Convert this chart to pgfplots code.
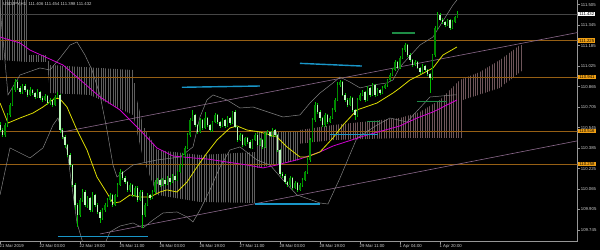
\documentclass[border=0pt]{standalone}
\usepackage{pgfplots}
\pgfplotsset{compat=1.18}
\usepackage{pgfplotstable}
\usepackage{fontspec}
\setmainfont{Liberation Sans}
\usetikzlibrary{patterns.meta}
\definecolor{wick}{RGB}{0,190,0}
\definecolor{bull}{RGB}{0,140,0}
\definecolor{bear}{RGB}{190,250,190}
\definecolor{hline}{RGB}{150,95,20}
\definecolor{boxo}{RGB}{240,160,20}
\definecolor{trend}{RGB}{140,105,140}
\definecolor{blueseg}{RGB}{25,150,200}
\definecolor{greenseg}{RGB}{30,140,70}
\definecolor{bb}{RGB}{130,130,130}
\definecolor{ma}{RGB}{210,0,210}
\definecolor{yel}{RGB}{220,220,0}
\definecolor{cloudg}{RGB}{95,95,95}
\definecolor{cloudr}{RGB}{110,85,90}
\definecolor{lbl}{RGB}{210,210,210}
\definecolor{axc}{RGB}{150,150,150}
\definecolor{pline}{RGB}{70,70,70}

\pgfplotstableread{
i o c h l
0 110.565 110.526 110.590 110.510
1 110.526 110.487 110.540 110.470
2 110.487 110.565 110.580 110.475
3 110.565 110.644 110.660 110.550
4 110.644 110.722 110.740 110.630
5 110.722 110.839 110.860 110.710
6 110.839 110.901 110.930 110.825
7 110.901 110.855 110.915 110.840
8 110.855 110.823 110.870 110.805
9 110.823 110.870 110.890 110.810
10 110.870 110.839 110.885 110.825
11 110.839 110.800 110.850 110.785
12 110.800 110.839 110.860 110.790
13 110.839 110.815 110.850 110.800
14 110.815 110.784 110.825 110.770
15 110.784 110.823 110.845 110.775
16 110.823 110.776 110.835 110.760
17 110.776 110.761 110.790 110.745
18 110.761 110.792 110.810 110.750
19 110.792 110.737 110.800 110.725
20 110.737 110.761 110.775 110.720
21 110.761 110.722 110.770 110.710
22 110.722 110.784 110.800 110.715
23 110.784 110.800 110.820 110.775
24 110.800 110.526 110.810 110.500
25 110.526 110.472 110.540 110.455
26 110.472 110.409 110.485 110.390
27 110.409 110.331 110.420 110.315
28 110.331 110.253 110.345 110.235
29 110.253 110.097 110.265 110.080
30 110.097 109.940 110.110 109.900
31 109.940 109.862 109.960 109.769
32 109.862 109.980 109.995 109.845
33 109.980 110.042 110.065 109.965
34 110.042 109.940 110.055 109.925
35 109.940 109.995 110.010 109.920
36 109.995 109.901 110.005 109.885
37 109.901 110.019 110.040 109.890
38 110.019 109.940 110.030 109.925
39 109.940 109.886 109.955 109.870
40 109.886 109.839 109.900 109.800
41 109.839 109.901 109.915 109.825
42 109.901 109.940 109.960 109.890
43 109.940 109.980 109.995 109.925
44 109.980 110.019 110.035 109.965
45 110.019 109.940 110.030 109.925
46 109.940 110.019 110.030 109.930
47 110.019 110.097 110.110 110.005
48 110.097 110.198 110.225 110.085
49 110.198 110.151 110.210 110.135
50 110.151 110.120 110.165 110.105
51 110.120 110.058 110.130 110.040
52 110.058 110.097 110.115 110.045
53 110.097 110.019 110.105 110.000
54 110.019 110.073 110.090 110.005
55 110.073 109.980 110.085 109.965
56 109.980 110.042 110.060 109.970
57 110.042 109.862 110.055 109.761
58 109.862 109.940 109.955 109.850
59 109.940 110.019 110.035 109.930
60 110.019 109.995 110.030 109.980
61 109.995 110.042 110.055 109.985
62 110.042 110.120 110.135 110.030
63 110.120 110.136 110.150 110.105
64 110.136 110.097 110.145 110.085
65 110.097 110.136 110.150 110.090
66 110.136 110.104 110.145 110.090
67 110.104 110.151 110.165 110.095
68 110.151 110.120 110.160 110.100
69 110.120 110.167 110.180 110.110
70 110.167 110.136 110.175 110.125
71 110.136 110.198 110.210 110.125
72 110.198 110.253 110.265 110.190
73 110.253 110.331 110.345 110.240
74 110.331 110.386 110.400 110.320
75 110.386 110.487 110.500 110.375
76 110.487 110.605 110.620 110.475
77 110.605 110.644 110.683 110.595
78 110.644 110.565 110.655 110.550
79 110.565 110.511 110.575 110.495
80 110.511 110.605 110.620 110.500
81 110.605 110.542 110.615 110.530
82 110.542 110.620 110.667 110.535
83 110.620 110.565 110.630 110.550
84 110.565 110.526 110.575 110.510
85 110.526 110.589 110.600 110.515
86 110.589 110.644 110.660 110.580
87 110.644 110.589 110.655 110.575
88 110.589 110.558 110.600 110.545
89 110.558 110.605 110.620 110.550
90 110.605 110.558 110.615 110.545
91 110.558 110.620 110.635 110.550
92 110.620 110.581 110.630 110.570
93 110.581 110.667 110.675 110.570
94 110.667 110.550 110.683 110.540
95 110.550 110.448 110.560 110.435
96 110.448 110.487 110.500 110.440
97 110.487 110.409 110.495 110.395
98 110.409 110.464 110.475 110.400
99 110.464 110.433 110.475 110.420
100 110.433 110.386 110.445 110.375
101 110.386 110.448 110.460 110.380
102 110.448 110.487 110.500 110.440
103 110.487 110.409 110.495 110.400
104 110.409 110.448 110.460 110.400
105 110.448 110.394 110.455 110.380
106 110.394 110.503 110.515 110.385
107 110.503 110.511 110.525 110.490
108 110.511 110.480 110.520 110.470
109 110.480 110.526 110.540 110.470
110 110.526 110.487 110.535 110.475
111 110.487 110.370 110.495 110.355
112 110.370 110.183 110.380 110.165
113 110.183 110.167 110.200 110.150
114 110.167 110.120 110.180 110.105
115 110.120 110.097 110.130 110.080
116 110.097 110.151 110.165 110.085
117 110.151 110.073 110.160 110.060
118 110.073 110.112 110.125 110.065
119 110.112 110.058 110.120 110.045
120 110.058 110.097 110.110 110.050
121 110.097 110.136 110.150 110.085
122 110.136 110.198 110.210 110.125
123 110.198 110.292 110.305 110.185
124 110.292 110.448 110.460 110.280
125 110.448 110.605 110.620 110.435
126 110.605 110.722 110.745 110.590
127 110.722 110.667 110.735 110.650
128 110.667 110.620 110.680 110.600
129 110.620 110.565 110.630 110.550
130 110.565 110.644 110.660 110.555
131 110.644 110.589 110.655 110.575
132 110.589 110.620 110.635 110.580
133 110.620 110.683 110.695 110.610
134 110.683 110.761 110.775 110.670
135 110.761 110.878 110.900 110.750
136 110.878 110.901 110.917 110.865
137 110.901 110.800 110.910 110.790
138 110.800 110.761 110.815 110.745
139 110.761 110.722 110.775 110.705
140 110.722 110.776 110.790 110.710
141 110.776 110.683 110.785 110.670
142 110.683 110.644 110.695 110.605
143 110.644 110.761 110.775 110.630
144 110.761 110.800 110.815 110.750
145 110.800 110.823 110.840 110.790
146 110.823 110.761 110.830 110.745
147 110.761 110.855 110.870 110.750
148 110.855 110.800 110.865 110.785
149 110.800 110.878 110.895 110.790
150 110.878 110.800 110.890 110.785
151 110.800 110.839 110.855 110.790
152 110.839 110.815 110.850 110.800
153 110.815 110.855 110.870 110.805
154 110.855 110.878 110.890 110.845
155 110.878 110.917 110.930 110.865
156 110.917 110.956 110.970 110.905
157 110.956 110.995 111.010 110.945
158 110.995 111.058 111.075 110.985
159 111.058 111.011 111.070 111.000
160 111.011 111.089 111.105 111.000
161 111.089 111.151 111.170 111.080
162 111.151 111.190 111.210 111.140
163 111.190 111.112 111.200 111.100
164 111.112 111.073 111.125 111.060
165 111.073 111.034 111.085 111.020
166 111.034 111.058 111.070 111.025
167 111.058 111.011 111.065 111.000
168 111.011 110.980 111.020 110.965
169 110.980 111.026 111.040 110.970
170 111.026 110.995 111.035 110.980
171 110.995 110.964 111.005 110.950
172 110.964 110.933 110.975 110.815
173 110.933 111.112 111.125 110.920
174 111.112 111.323 111.340 111.100
175 111.323 111.425 111.450 111.310
176 111.425 111.386 111.440 111.375
177 111.386 111.370 111.400 111.355
178 111.370 111.347 111.380 111.330
179 111.347 111.386 111.395 111.335
180 111.386 111.323 111.395 111.310
181 111.323 111.370 111.385 111.315
182 111.370 111.406 111.420 111.360
183 111.406 111.432 111.454 111.398
}\candles

\begin{document}
\begin{tikzpicture}
\path[use as bounding box, fill=black] (0,0) rectangle (600bp,250bp);
\begin{axis}[
  at={(0,9bp)}, anchor=south west,
  scale only axis, width=577.7bp, height=241bp,
  xmin=0, xmax=231.1, ymin=109.659, ymax=111.542,
  enlargelimits=false, clip mode=individual,
  axis x line*=bottom, axis y line*=right,
  axis line style={draw=axc, line width=0.6bp, -},
  tick style={draw=axc, line width=0.5bp},
  tick align=outside, major tick length=2.5bp,
  xtick={0,16,32,48,64,80,96,112,128,144,160,176},
  xticklabels={21 Mar 2019,22 Mar 03:00,22 Mar 19:00,25 Mar 11:00,26 Mar 03:00,26 Mar 19:00,27 Mar 11:00,28 Mar 03:00,28 Mar 19:00,29 Mar 11:00,1 Apr 04:00,1 Apr 20:00},
  xticklabel style={anchor=north west, inner sep=0pt, yshift=-1.2bp, xshift=-0.5bp, text=lbl, font=\fontsize{4.3}{5}\selectfont},
  ytick={109.745,109.905,110.065,110.225,110.385,110.545,110.705,110.865,111.025,111.185,111.345,111.505},
  yticklabel pos=right,
  yticklabel style={anchor=west, inner sep=0pt, xshift=0.5bp, text=lbl, font=\fontsize{4.3}{5}\selectfont,
    /pgf/number format/.cd, fixed, fixed zerofill, precision=3, assume math mode=true},
  scaled y ticks=false,
]
% Ichimoku cloud
\addplot[draw=none, pattern={Lines[angle=90,distance=2.4bp,line width=0.3bp]}, pattern color=cloudg] coordinates {
(0,111.542) (10.8,111.542) (10.8,111.112) (18.8,111.112) (20,111.034) (53.2,110.995) (54.8,110.761) (57.2,110.565) (62.8,110.370) (80,110.331) (102.8,110.355) (102.8,110.511) (120,110.511) (120,110.292) (102.8,110.230) (102.8,109.956) (80,109.964) (62.8,110.019) (57.2,110.308) (53.2,110.644) (36,110.800) (20,110.815) (18.8,111.058) (10.8,111.058) (0,111.073) (0,111.542)};
\addplot[draw=none, pattern={Lines[angle=90,distance=2.4bp,line width=0.3bp]}, pattern color=cloudr] coordinates {
(120,110.526) (133.2,110.565) (160,110.620) (168,110.667) (176,110.761) (184,110.917) (192,110.980) (200,111.073) (208,111.190) (209.2,111.190) (209.2,110.995) (200,110.855) (185.2,110.761) (185.2,110.464) (160,110.464) (133.2,110.448) (120,110.420) (120,110.526)};
% horizontal levels
\addplot[hline, line width=0.7bp] coordinates {(0,111.225) (231.1,111.225)};
\addplot[hline, line width=0.7bp] coordinates {(0,110.941) (231.1,110.941)};
\addplot[hline, line width=0.7bp] coordinates {(0,110.518) (231.1,110.518)};
\addplot[hline, line width=0.7bp] coordinates {(0,110.261) (231.1,110.261)};
\addplot[pline, line width=0.8bp] coordinates {(0,111.432) (231.1,111.432)};
% trend channel
\addplot[trend, line width=0.6bp] coordinates {(24.8,110.510) (231.1,111.288)};
\addplot[trend, line width=0.6bp] coordinates {(40,109.714) (231.1,110.442)};
% Bollinger bands
\addplot[bb, line width=0.5bp] coordinates {
(0,111.480) (1.6,111.151) (3.2,110.800) (8,110.956) (16,111.011) (20,110.995) (24,111.089) (28,111.190) (30.8,111.214) (34,111.112) (36.8,110.995) (40,110.800) (42.8,110.526) (45.2,110.253) (46.8,110.159) (53.2,110.253) (62.8,110.292) (72,110.315) (77.2,110.394) (80,110.628) (82.8,110.761) (85.2,110.800) (90.8,110.761) (96,110.698) (101.2,110.706) (113.2,110.628) (120,110.644) (124,110.737) (128,110.815) (133.2,110.894) (136,110.940) (140,110.901) (144,110.855) (149.2,110.878) (154.8,110.894) (157.2,110.917) (160,111.019) (168,111.190) (173.2,111.253) (181.2,111.503) (182.8,111.542)};
\addplot[bb, line width=0.5bp] coordinates {
(0,110.019) (4,110.386) (12,110.308) (17.2,110.386) (21.2,110.565) (23.2,110.620) (26.8,110.370) (30.8,109.800) (34,109.589) (40,109.550) (44,109.730) (48,109.776) (53.2,109.800) (57.2,109.761) (61.2,109.823) (65.2,109.878) (70.8,109.886) (74.8,109.847) (77.2,109.808) (80,109.901) (84,110.058) (88,110.237) (92,110.370) (96,110.394) (102.8,110.292) (108,110.253) (113.2,110.136) (118.8,110.019) (128,109.956) (131.2,109.948) (136,110.151) (142.8,110.464) (150.8,110.565) (156,110.620) (162.8,110.589) (172,110.784) (181.2,110.800) (182.8,110.800)};
% moving averages
\addplot[ma, line width=0.8bp] coordinates {
(0,111.253) (8,111.206) (12,111.151) (25.2,111.034) (30.8,110.940) (40,110.784) (48,110.683) (56,110.526) (62.8,110.386) (69.2,110.323) (77.2,110.308) (82.8,110.300) (90.8,110.276) (98.8,110.253) (105.2,110.230) (110.8,110.253) (120,110.300) (128,110.355) (133.2,110.401) (146.8,110.487) (160,110.558) (166.8,110.620) (173.2,110.667) (178.8,110.722) (182.8,110.761)};
\addplot[yel, line width=0.8bp] coordinates {
(0,110.737) (3.2,110.581) (8,110.620) (13.2,110.659) (17.2,110.706) (22,110.776) (24,110.769) (26.8,110.706) (30.8,110.526) (34.8,110.370) (38.8,110.159) (42.8,110.034) (45.2,109.956) (48,109.964) (52,110.019) (56,110.003) (60,110.003) (64,110.042) (66.8,110.058) (70.8,110.042) (74.8,110.120) (78.8,110.237) (82.8,110.347) (86.8,110.448) (92,110.542) (94.8,110.558) (98.8,110.526) (104,110.511) (108,110.487) (110.8,110.472) (114.8,110.394) (120,110.315) (122.8,110.315) (128,110.355) (133.2,110.464) (137.2,110.565) (142.8,110.683) (150.8,110.737) (157.2,110.815) (160,110.855) (164,110.917) (168,110.956) (173.2,111.011) (177.2,111.112) (182.8,111.175)};
% candles: wicks
\addplot[draw=none, mark=none, error bars/.cd, y dir=both, y explicit, error mark=none,
  error bar style={draw=wick, line width=0.45bp}]
  table[x=i, y expr=(\thisrow{h}+\thisrow{l})/2, y error expr=(\thisrow{h}-\thisrow{l})/2] {\candles};
% bull bodies
\addplot[draw=none, mark=none, restrict x to domain=-1:300, error bars/.cd, y dir=both, y explicit, error mark=none,
  error bar style={draw=bull, line width=1.6bp}]
  table[x expr={\thisrow{c}>\thisrow{o} ? \thisrow{i} : -50}, y expr=(\thisrow{o}+\thisrow{c})/2, y error expr=abs(\thisrow{c}-\thisrow{o})/2] {\candles};
% bear bodies
\addplot[draw=none, mark=none, restrict x to domain=-1:300, error bars/.cd, y dir=both, y explicit, error mark=none,
  error bar style={draw=bear, line width=1.6bp}]
  table[x expr={\thisrow{c}<\thisrow{o} ? \thisrow{i} : -50}, y expr=(\thisrow{o}+\thisrow{c})/2, y error expr=abs(\thisrow{c}-\thisrow{o})/2] {\candles};
% blue and green segments
\addplot[blueseg, line width=1.4bp] coordinates {(23.2,109.693) (59.2,109.693)};
\addplot[blueseg, line width=1.4bp] coordinates {(72.8,110.860) (104,110.870)};
\addplot[blueseg, line width=1.4bp] coordinates {(102,109.948) (128,109.948)};
\addplot[blueseg, line width=1.4bp] coordinates {(132,110.493) (151.2,110.493)};
\addplot[blueseg, line width=1.4bp] coordinates {(120,111.047) (144.8,111.026)};
\addplot[greenseg, line width=1.4bp] coordinates {(156.8,111.284) (166,111.284)};
\addplot[greenseg, line width=1.4bp] coordinates {(166.8,110.747) (178.8,110.747)};
\addplot[greenseg, line width=1.4bp] coordinates {(146.8,110.594) (152,110.594)};
\coordinate (p0) at (axis cs:231.1,111.432);
\coordinate (p1) at (axis cs:231.1,111.225);
\coordinate (p2) at (axis cs:231.1,110.941);
\coordinate (p3) at (axis cs:231.1,110.518);
\coordinate (p4) at (axis cs:231.1,110.261);
\end{axis}
\tikzset{vbox/.style={anchor=west, inner xsep=1.2bp, inner ysep=0.9bp, text=black, font=\fontsize{4.3}{5}\selectfont, xshift=0.3bp}}
\node[vbox, fill=white] at (p0) {111.432};
\node[vbox, fill=boxo] at (p1) {111.225};
\node[vbox, fill=boxo] at (p2) {110.941};
\node[vbox, fill=boxo] at (p3) {110.516};
\node[vbox, fill=boxo] at (p4) {110.258};
\node[anchor=west, inner sep=0pt, text=lbl, font=\fontsize{4.3}{5}\selectfont] at (3bp,246bp) {USDJPY,H1\ \ 111.406 111.454 111.398 111.432};
\end{tikzpicture}
\end{document}
